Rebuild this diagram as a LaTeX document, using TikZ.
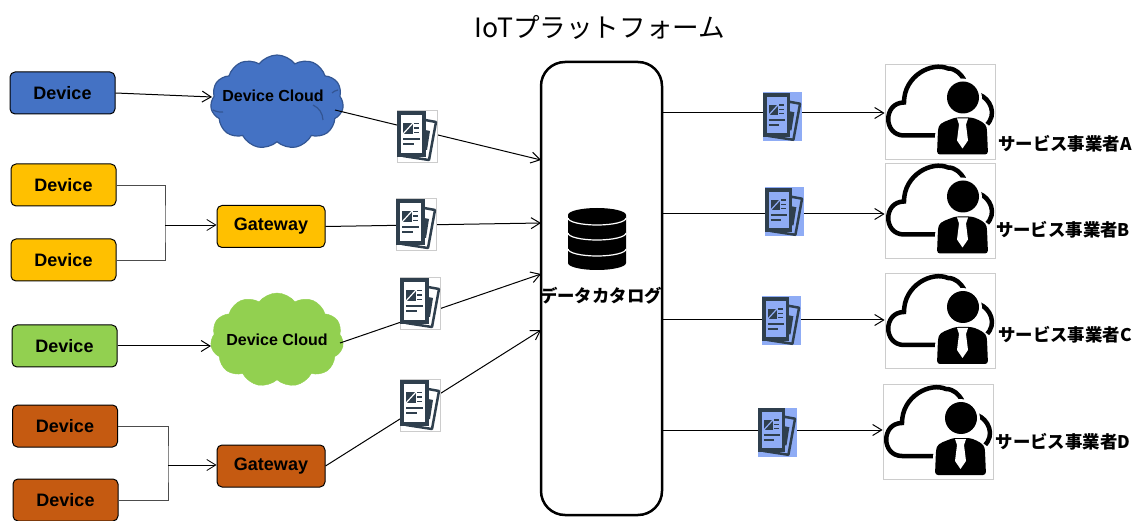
\documentclass[tikz,border=0pt]{standalone}
\usepackage{fontspec}
\setmainfont{Liberation Sans}
\newfontfamily\jpfont{Noto Sans CJK JP}
\usetikzlibrary{arrows.meta,shapes.symbols}
\definecolor{devblue}{HTML}{4472C4}
\definecolor{devyellow}{HTML}{FFC000}
\definecolor{devgreen}{HTML}{92D050}
\definecolor{devorange}{HTML}{C55A11}
\definecolor{docdark}{HTML}{2F3F4D}
\definecolor{docblue}{HTML}{8FACF5}
\definecolor{iconedge}{HTML}{CCCCCC}
\tikzset{
  box/.style={draw=black,rounded corners=5pt,line width=1pt,inner sep=0pt,
              minimum width=105pt,minimum height=42pt,font=\bfseries\fontsize{18}{18}\selectfont},
  gate/.style={box,minimum width=108pt},
  puff/.style={cloud,cloud puffs=11,cloud puff arc=105,aspect=1.4,inner sep=0pt,
               minimum width=133pt,minimum height=94pt,font=\bfseries\fontsize{16}{16}\selectfont},
  doc/.style={draw=iconedge,fill=#1,line width=.7pt,inner sep=0pt,minimum width=40pt,minimum height=52pt},
  doc/.default=white,
  outdoc/.style={doc=docblue,draw=none,minimum width=39pt,minimum height=49pt},
  user/.style={draw=iconedge,fill=white,line width=.8pt,inner sep=0pt,minimum width=110pt,minimum height=95pt},
  link/.style={-{Straight Barb[length=9pt,width=11pt]},line width=1pt},
  fork/.style={draw=black!70,line width=.7pt},
  tag/.style={font=\jpfont\bfseries\fontsize{17.4}{17.4}\selectfont},
  pics/pages/.style={code={
    \draw[docdark,fill=#1,line width=2.5pt,line join=round] (8,-16) -- (19,-14) -- (12,24) -- (-14,20) -- cycle;
    \fill[docdark] (8,-6) -- (13,-5) -- (10,14) -- (8,14) -- cycle;
    \draw[docdark,fill=#1,line width=3.5pt] (-18,-23) rectangle (7,19);
    \fill[docdark] (-14,-13) rectangle (-4,-2);
    \draw[#1,line width=1.2pt] (-14,-2) -- (-4,-13);
    \draw[docdark,line width=1.5pt] (-3,-12.5) -- (2,-12.5) (-3,-8) -- (2,-8) (-3,-3.5) -- (2,-3.5);
    \draw[docdark,line width=2pt] (-14,3) -- (3,3) (-14,8) -- (-3,8);
  }},
  pics/usercloud/.style={code={
    \draw[line width=4.5pt,line cap=round] (-4.5,24) -- (-36,24)
      .. controls (-57,24) and (-57,-9) .. (-36,-9)
      .. controls (-36,-36) and (-8,-50) .. (8,-43)
      .. controls (16,-43) and (21,-37) .. (24,-32);
    \draw[line width=4.5pt,line cap=round] (39,-17) .. controls (50,-13) and (58,3) .. (46,14);
    \fill[white] (22,-13) circle (20);
    \fill[white] (-6,42) -- (-4,11) -- (14,3) -- (34,3) -- (50,15) -- (52,42) -- cycle;
    \fill (23,-14) circle (16);
    \fill[rounded corners=3pt] (-3,43) -- (-2,18) .. controls (0,11) and (8,9) .. (15,6)
      -- (32,6) .. controls (40,9) and (46,12) .. (47,19) -- (48,43) -- cycle;
    \fill[white] (17,7) -- (28,7) -- (26,13) -- (28,29) -- (22.5,37) -- (17,29) -- (19,13) -- cycle;
  }},
  pics/dbstack/.style={code={
    \fill (-29,-24) -- (-29,24) arc[start angle=180,end angle=0,x radius=29,y radius=7]
      -- (29,-24) arc[start angle=0,end angle=-180,x radius=29,y radius=7] -- cycle;
    \draw[white,line width=1.2pt] (-29,-21) arc[start angle=180,end angle=0,x radius=29,y radius=7];
    \draw[white,line width=1.2pt] (-29,-6) arc[start angle=180,end angle=0,x radius=29,y radius=7];
    \draw[white,line width=1.2pt] (-29,10) arc[start angle=180,end angle=0,x radius=29,y radius=7];
  }}
}
\begin{document}
\begin{tikzpicture}[x=1pt,y=-1pt]
  \useasboundingbox (0,0) rectangle (1141,521);

  \node[font=\jpfont\fontsize{26.6}{26.6}\selectfont] (title) at (600,27) {IoTプラットフォーム};

  % left side
  \node[box,fill=devblue] (devA) at (62.5,93) {Device};
  \node[box,fill=devyellow] (devB) at (63.5,185) {Device};
  \node[box,fill=devyellow] (devC) at (63.5,260) {Device};
  \node[box,fill=devgreen] (devD) at (64.5,346) {Device};
  \node[box,fill=devorange] (devE) at (65,426) {Device};
  \node[box,fill=devorange] (devF) at (65.5,500) {Device};

  \node[puff,draw=devblue!75!black,line width=1.2pt,fill=devblue] (cloudA) at (277,102) {};
  \draw[devblue!75!black,line width=1.2pt] (213,110) to[bend right=15] (223,112)
    (313,105) to[bend left=30] (323,120) (332,93) to[bend left=15] (338,90);
  \node[font=\bfseries\fontsize{16}{16}\selectfont] (cloudAtext) at (273,96) {Device Cloud};
  \node[gate,fill=devyellow] (gateB) at (271,226.5) {Gateway};
  \node[puff,draw=devgreen,fill=devgreen] (cloudD) at (277,340) {};
  \node[font=\bfseries\fontsize{16}{16}\selectfont] (cloudDtext) at (277,340) {Device Cloud};
  \node[gate,fill=devorange] (gateE) at (271,466) {Gateway};

  \coordinate (entryA) at (212,97);
  \coordinate (exitA) at (335,110);
  \coordinate (exitD) at (340,343);
  \coordinate (forkB) at (165,225);
  \coordinate (forkE) at (168,465);

  % centre
  \node[draw=black,rounded corners=24pt,line width=2.5pt,fill=white,minimum width=121pt,minimum height=453pt] (catalog) at (601.5,288.5) {};
  \pic at (597,239) {dbstack};
  \node[tag] (catalogtext) at (601,296) {データカタログ};

  \coordinate (inA) at (541,160);
  \coordinate (inB) at (541,223);
  \coordinate (inD) at (541,274);
  \coordinate (inE) at (541,330);
  \coordinate (tapA) at (662,113);
  \coordinate (tapB) at (662,214);
  \coordinate (tapC) at (662,320);
  \coordinate (tapD) at (662,430);

  % right side
  \node[user] (userA) at (940,111.5) {};
  \node[user] (userB) at (940,210.5) {};
  \node[user] (userC) at (940,321) {};
  \node[user] (userD) at (938,432) {};
  \foreach \n in {A,B,C,D}
    \pic at (user\n) {usercloud};

  \node[tag] (nameA) at (1065,144) {サービス事業者A};
  \node[tag] (nameB) at (1063,230) {サービス事業者B};
  \node[tag] (nameC) at (1065,335) {サービス事業者C};
  \node[tag] (nameD) at (1063,442) {サービス事業者D};

  % lines
  \draw[link] (devA.east) -- (entryA);
  \draw[fork] (devB.east) -| (forkB) |- (devC.east);
  \draw[link,line width=.8pt] (forkB) -- (gateB.west |- forkB);
  \draw[link] (devD.east) -- (cloudD.west |- devD);
  \draw[fork] (devE.east) -| (forkE) |- (devF.east);
  \draw[link,line width=.8pt] (forkE) -- (gateE.west |- forkE);

  \draw[link] (exitA) -- (inA);
  \draw[link] (gateB.east) -- (inB);
  \draw[link] (exitD) -- (inD);
  \draw[link] (gateE.east) -- (inE);

  \draw[link] (tapA) -- (userA.west |- tapA);
  \draw[link] (tapB) -- (userB.west |- tapB);
  \draw[link] (tapC) -- (userC.west |- tapC);
  \draw[link] (tapD) -- (userD.west |- tapD);

  % pages on the lines
  \node[doc] (docA) at (417,136) {};
  \node[doc] (docB) at (416,224) {};
  \node[doc] (docD) at (420,303) {};
  \node[doc] (docE) at (420,405) {};
  \node[outdoc] (outA) at (782,117) {};
  \node[outdoc] (outB) at (784,212) {};
  \node[outdoc] (outC) at (781,321) {};
  \node[outdoc] (outD) at (777,432) {};
  \foreach \n in {docA,docB,docD,docE}
    \pic at (\n) {pages=white};
  \foreach \n in {outA,outB,outC,outD}
    \pic[scale=.95] at (\n) {pages=docblue};
\end{tikzpicture}
\end{document}
